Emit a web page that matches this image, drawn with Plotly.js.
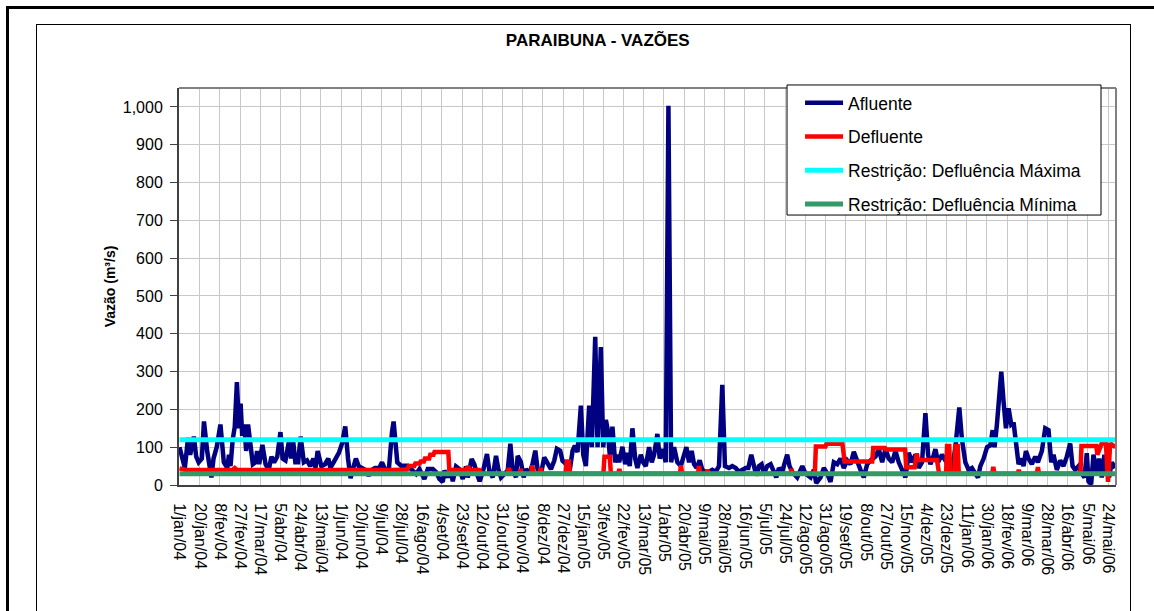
<!DOCTYPE html>
<html>
<head>
<meta charset="utf-8">
<script src="https://cdn.plot.ly/plotly-3.0.1.min.js"></script>
<style>
  html, body { margin: 0; padding: 0; background: #fff; }
  #wrap { position: relative; width: 1154px; height: 611px; overflow: hidden; }
  #chart { position: absolute; left: 0; top: 0; width: 1154px; height: 611px; }
  .frame { position: absolute; pointer-events: none; box-sizing: border-box; }
</style>
</head>
<body>
<div id="wrap">
  <div id="chart"></div>
  <div class="frame" style="left:6px; top:6px; width:1200px; height:640px; border:3px solid #000;"></div>
  <div class="frame" style="left:36px; top:24px; width:1095px; height:620px; border:1px solid #000;"></div>
</div>
<script>
// Days counted from 1/jan/04 (day 0) to 31/mai/06 (day 881)
const tickLabels = ["1/jan/04","20/jan/04","8/fev/04","27/fev/04","17/mar/04","5/abr/04","24/abr/04","13/mai/04","1/jun/04","20/jun/04","9/jul/04","28/jul/04","16/ago/04","4/set/04","23/set/04","12/out/04","31/out/04","19/nov/04","8/dez/04","27/dez/04","15/jan/05","3/fev/05","22/fev/05","13/mar/05","1/abr/05","20/abr/05","9/mai/05","28/mai/05","16/jun/05","5/jul/05","24/jul/05","12/ago/05","31/ago/05","19/set/05","8/out/05","27/out/05","15/nov/05","4/dez/05","23/dez/05","11/jan/06","30/jan/06","18/fev/06","9/mar/06","28/mar/06","16/abr/06","5/mai/06","24/mai/06"];
const tickStepDays = 19;

const afluenteDia = [0,2.5,5,8,10,13.5,15.7,18,21,23,26,30,32,35,38.5,41.7,45,46.5,48,50,52,54,56,57.5,59,61,62.7,64.5,67,69,71.5,73,75,78,81,84,86.5,89,92,95,97,99.7,103,105,107,109,111.6,114,117,120,123,126,128,130,133.5,137,140,142,145,150,153,156,158.6,161,164,166,168.6,172,175,178,181,184,188,190.6,193.7,197,198.4,200,201.5,203,205,208.6,214.9,218,222.7,225.8,230.5,233.7,238.4,241.5,244.6,247.8,249.3,252.5,255,257.2,260.3,263.4,266.6,269.7,271.3,275,277.5,280,282.5,285.4,289.4,291.6,294.8,297.9,300.1,302.6,305.7,308.9,311.4,313.5,316.7,318.3,321.4,323.9,326.1,329.2,332.3,334.9,337,340.2,343.3,346.4,349.6,352.7,355.2,358.3,360.5,363.7,366.8,370,372.1,374.6,377.8,380,382.5,385.6,388.1,391.3,393.5,396.6,398.8,401.3,402.8,405,407.5,410,412.2,413.8,416.9,419.5,421.6,423.8,426.3,428.9,431,434.2,436.4,438.9,442,444.5,446.7,449.8,452,454.5,457.7,460.2,462.7,465.5,468.6,471.8,474.9,477.1,479.6,482.1,484.3,486.8,489.6,492.1,495.3,498.4,501.5,504.7,507.8,510.9,513.4,517.2,520.3,523.5,526.6,529.7,532.9,535.4,538.2,540.7,542.9,545.4,547.9,550.1,553.2,556.4,558.5,561.7,564.2,567.3,569.8,572,574.2,576.7,581.4,584.5,586.2,589.3,594,597.1,599.3,603.4,606.5,609.7,612.8,615.9,619.1,622.2,625.3,628.5,631.6,634.7,637.9,641,644.1,647.3,650.4,655.1,658.2,661.4,664.5,667.6,670.8,673.9,677,680.2,683.3,686.4,689.5,692.7,695.8,698.9,702.1,704.6,706.8,709,711.5,714,717.7,720.9,724,727.1,730.3,734,736.5,739.7,742.8,745.9,749.1,751.6,753.8,756.9,760.1,763.2,765.4,767.2,769.4,773.5,775.7,777.9,780.4,782.9,785.1,787.3,789.8,792.3,794.5,796.7,799.2,802.3,805.5,808,811.7,814.9,818,820.5,822.7,825.8,829,832.1,835.2,838.4,840.6,843.1,846.2,849.3,851.8,854,855.6,858.1,860.3,863.4,865.6,868.1,870.6,872.8,875,877.5,880.7];
const afluenteVazao = [100,65,45,125,80,128,75,60,70,168,90,20,70,100,160,60,45,80,50,119,154,272,150,215,130,160,90,160,100,55,60,90,55,106,55,40,75,60,75,140,70,65,115,70,115,60,60,128,60,65,50,70,45,90,50,55,70,45,60,85,110,155,70,18,50,70,50,45,40,25,40,45,45,60,40,40,110,140,168,130,60,51,51,42,29,42,16,42,42,34,16,8,38,20,42,10,49,42,16,49,20,69,55,29,10,34,82,38,20,77,42,20,29,38,109,42,20,77,60,20,42,29,56,91,42,29,73,56,42,64,96,91,64,56,29,91,104,87,210,80,50,210,100,392,100,365,100,172,150,80,154,60,80,60,101,55,85,50,150,70,45,80,60,50,100,60,80,135,70,95,60,1003,60,100,60,50,80,100,60,90,55,45,65,40,35,35,40,35,50,265,50,45,50,45,35,40,45,45,80,50,25,50,55,30,50,55,40,20,45,35,60,80,50,35,20,45,50,30,20,40,5,20,45,30,8,60,55,70,45,65,55,88,60,40,20,55,65,75,95,60,95,70,60,90,60,40,20,85,60,80,45,60,190,80,55,70,95,60,80,65,50,40,100,205,120,60,40,45,30,20,50,70,100,105,145,100,160,300,220,150,203,160,165,100,55,70,50,90,70,55,75,60,90,150,145,60,80,40,65,50,75,110,50,40,50,30,20,84,10,2,80,30,70,20,80,40,20,60,45];

const defluenteDia = [0,6,50,52,54,100,150,200,214,216,221,222,226,227,230,231,235,236,239,240,253,254,270,271.5,273,282,284,309,310,311.5,320,321,322,331,332,333.5,339,340,341,363.5,364.5,366.5,367.5,399,400,405,406,413,414,415,471,472,473,488,489,490,496,497,498,575,576,577,598,599,608,609,624,626,652,653,664,665,683,684,692,694,695,713,714,715,721.5,722.5,724.5,725.5,729.5,730.5,732.5,733.5,765,766,767,789,790,791,807,808,809,848,849,863,864,866,868,872,874,876,879,881];
const defluenteVazao = [44,40,40,45,40,39,40,40,41,50,50,57,57,62,62,70,70,80,80,87,87,40,40,50,40,40,30,30,45,30,30,42,30,30,52,30,30,45,30,30,62,62,30,30,75,75,30,30,42,30,30,52,30,30,50,30,30,40,30,30,42,30,30,102,102,109,109,62,62,98,98,94,94,47,47,84,66,66,40,30,30,103,103,30,30,103,103,30,30,48,30,30,40,30,30,47,30,30,103,103,80,92,110,110,8,110,105,100];

const periodoDia = [0, 881];
const restricaoMaxima = [120, 120];
const restricaoMinima = [30, 30];

const FONT = "Arial, 'Liberation Sans', sans-serif";

const traces = [
  {x: afluenteDia, y: afluenteVazao, type: 'scatter', mode: 'lines', name: 'Afluente', legendgroup: 'a',
   line: {color: '#000080', width: 4.5}},
  {x: defluenteDia, y: defluenteVazao, type: 'scatter', mode: 'lines', name: 'Defluente', legendgroup: 'b',
   line: {color: '#FF0000', width: 4.5}},
  {x: periodoDia, y: restricaoMaxima, type: 'scatter', mode: 'lines', name: 'Restrição: Defluência Máxima', legendgroup: 'c',
   line: {color: '#00FFFF', width: 5}},
  {x: periodoDia, y: restricaoMinima, type: 'scatter', mode: 'lines', name: 'Restrição: Defluência Mínima', legendgroup: 'd',
   line: {color: '#339966', width: 5}}
];

const tickVals = tickLabels.map((_, i) => i * tickStepDays);
const xRange = [-0.5, 881.5];

const layout = {
  width: 1154, height: 611,
  margin: {l: 179, r: 38, t: 88, b: 126, pad: 0},
  paper_bgcolor: '#ffffff', plot_bgcolor: '#ffffff',
  font: {family: FONT, color: '#000'},
  showlegend: true,
  title: {text: '<b>PARAIBUNA - VAZÕES</b>', font: {family: FONT, size: 17, color: '#000'},
          xref: 'container', x: 0.518, xanchor: 'center', yref: 'container', y: 0.9345, yanchor: 'middle'},
  xaxis: {
    type: 'linear', range: xRange, autorange: false,
    tickmode: 'array', tickvals: tickVals, ticktext: tickLabels, tickangle: 90,
    tickfont: {family: FONT, size: 16, color: '#000'},
    ticks: 'outside', ticklen: 13, tickcolor: 'rgba(0,0,0,0)', tickwidth: 1,
    showgrid: true, gridcolor: '#c8c8c8', gridwidth: 1,
    showline: true, linecolor: '#404040', linewidth: 2, mirror: false,
    zeroline: false, automargin: false
  },
  xaxis2: {
    type: 'linear', range: xRange, autorange: false, overlaying: 'x', anchor: 'y', side: 'bottom',
    tickmode: 'array', tickvals: tickVals, showticklabels: false,
    ticks: 'outside', ticklen: 6, tickcolor: '#404040', tickwidth: 1,
    showgrid: false, showline: false, zeroline: false, automargin: false
  },
  yaxis: {
    range: [0, 1050], autorange: false, dtick: 100, tick0: 0, tickformat: ',d',
    tickfont: {family: FONT, size: 16, color: '#000'},
    ticks: 'outside', ticklen: 7, tickcolor: '#404040', tickwidth: 1, ticklabelstandoff: 4,
    showgrid: true, gridcolor: '#c8c8c8', gridwidth: 1,
    showline: true, linecolor: '#404040', linewidth: 2,
    zeroline: false, automargin: false,
    title: {text: '<b>Vazão (m³/s)</b>', font: {family: FONT, size: 14, color: '#000'}, standoff: 4}
  },
  shapes: [
    {type: 'line', xref: 'paper', yref: 'paper', x0: 0, x1: 1, y0: 1, y1: 1, line: {color: '#808080', width: 2}},
    {type: 'line', xref: 'paper', yref: 'paper', x0: 1, x1: 1, y0: 0, y1: 1, line: {color: '#808080', width: 2}},
    {type: 'rect', xref: 'paper', yref: 'paper', layer: 'above', x0: 0.6489, x1: 0.984, y0: 0.680, y1: 1.0076,
     fillcolor: '#ffffff', line: {color: '#000', width: 1}}
  ],
  legend: {
    x: 0.6628, y: 1.0076, xanchor: 'left', yanchor: 'top',
    bgcolor: 'rgba(0,0,0,0)', borderwidth: 0,
    font: {family: FONT, size: 17.5, color: '#000'},
    traceorder: 'grouped', tracegroupgap: 8, itemwidth: 38
  }
};

Plotly.newPlot('chart', traces, layout, {staticPlot: true, displayModeBar: false});
</script>
</body>
</html>
